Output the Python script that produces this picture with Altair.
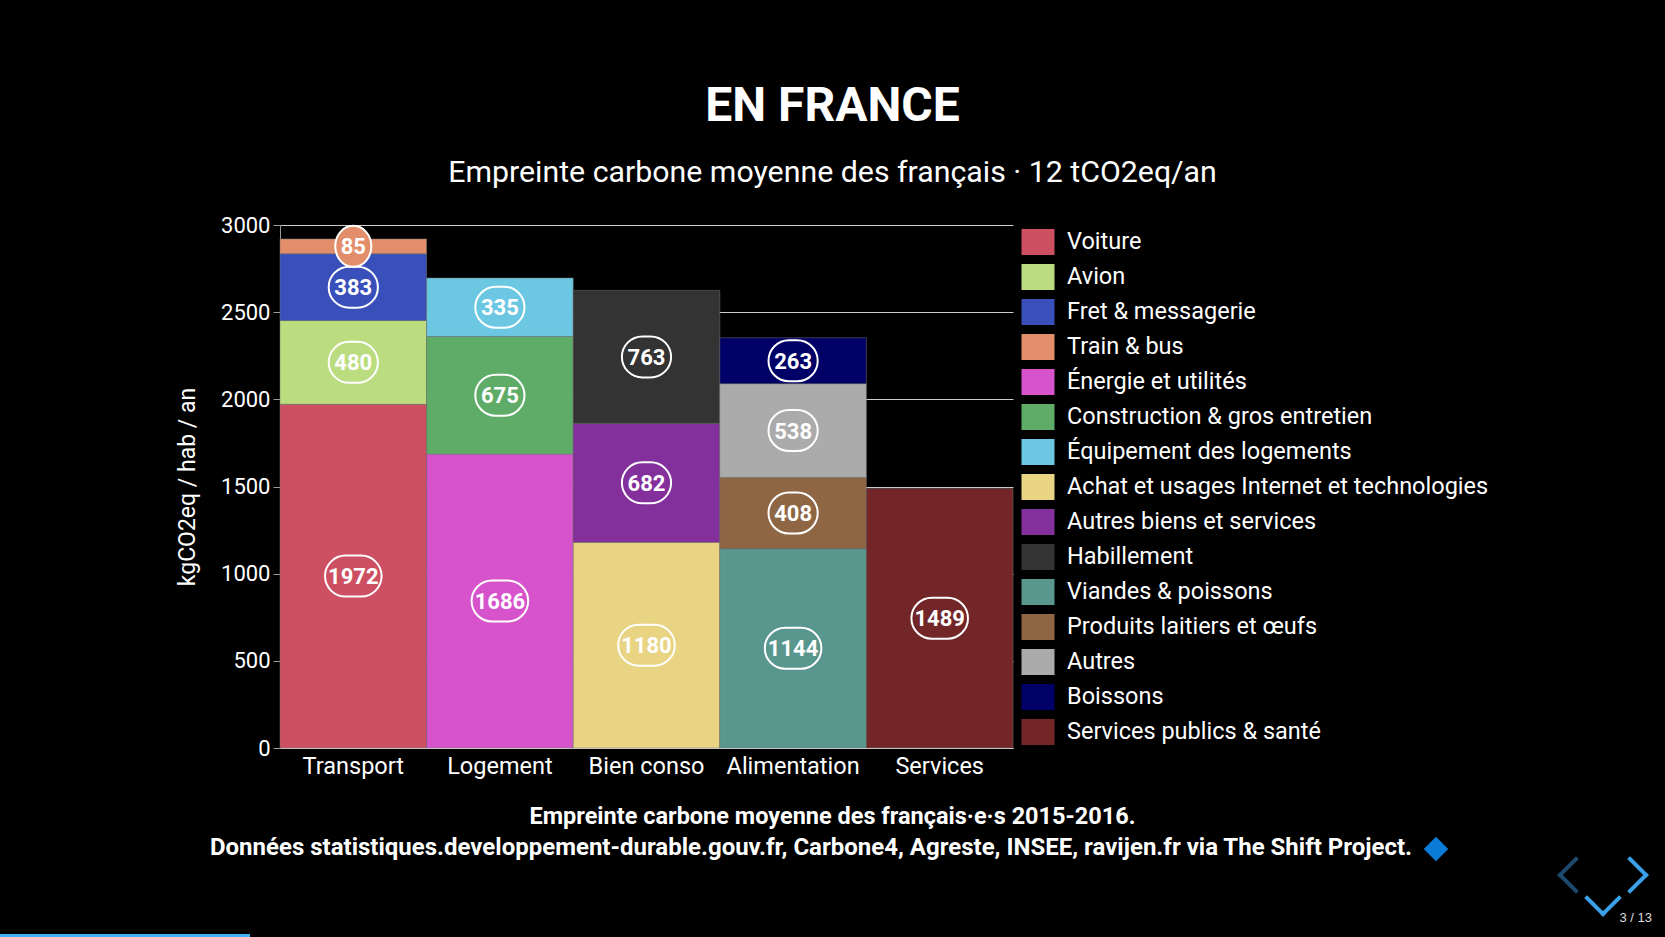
import altair as alt
import pandas as pd

FONT = "Roboto"

group_order = ["Transport", "Logement", "Bien conso", "Alimentation", "Services"]
groups = ["Transport", "Transport", "Transport", "Transport",
          "Logement", "Logement", "Logement",
          "Bien conso", "Bien conso", "Bien conso",
          "Alimentation", "Alimentation", "Alimentation", "Alimentation",
          "Services"]
categories = ["Voiture", "Avion", "Fret & messagerie", "Train & bus",
              "Énergie et utilités", "Construction & gros entretien", "Équipement des logements",
              "Achat et usages Internet et technologies", "Autres biens et services", "Habillement",
              "Viandes & poissons", "Produits laitiers et œufs", "Autres", "Boissons",
              "Services publics & santé"]
values = [1972, 480, 383, 85, 1686, 675, 335, 1180, 682, 763, 1144, 408, 538, 263, 1489]
colors = ["#CD4F62", "#BCDC80", "#3950BA", "#E38E6A", "#D653CC", "#5FAC68", "#6CC8E2",
          "#E8D482", "#83309C", "#333333", "#59968E", "#8E6644", "#ABABAB", "#000066", "#722628"]

title_text = "EN FRANCE"
subtitle_text = "Empreinte carbone moyenne des français · 12 tCO2eq/an"
y_title = "kgCO2eq / hab / an"
footer1 = "Empreinte carbone moyenne des français·e·s 2015-2016."
footer2 = "Données statistiques.developpement-durable.gouv.fr, Carbone4, Agreste, INSEE, ravijen.fr via The Shift Project."

# build stacked table
rows = []
cum = {}
for g, c, v in zip(groups, categories, values):
    s = cum.get(g, 0)
    rows.append({"group": g, "cat": c, "value": v, "start": s, "end": s + v, "mid": s + v / 2})
    cum[g] = s + v
df = pd.DataFrame(rows)


def pill(n):
    half = {2: 0.88, 3: 1.2, 4: 1.38}.get(n, 1.38)
    if half <= 1:
        return f"M -{half},0 A {half},1 0 1 1 {half},0 A {half},1 0 1 1 -{half},0 Z"
    a = round(half - 1, 3)
    return f"M -{a},-1 L {a},-1 A 1,1 0 0 1 {a},1 L -{a},1 A 1,1 0 0 1 -{a},-1 Z"


df["shape"] = [pill(len(str(v))) for v in df["value"]]

color_scale = alt.Scale(domain=categories, range=colors)
base = alt.Chart(df)

bars = base.mark_bar(stroke="#777777", strokeWidth=0.5).encode(
    x=alt.X("group:N", sort=group_order,
            scale=alt.Scale(paddingInner=0, paddingOuter=0),
            axis=alt.Axis(title=None, labelAngle=0, ticks=False, grid=False,
                          domainColor="#dddddd", labelColor="white", labelFont=FONT,
                          labelFontSize=23.5, labelPadding=6)),
    y=alt.Y("start:Q", scale=alt.Scale(domain=[0, 3000]),
            axis=alt.Axis(title=y_title, values=[0, 500, 1000, 1500, 2000, 2500, 3000],
                          format="d",
                          grid=True, gridColor="#cccccc", gridWidth=1,
                          domainColor="#999999", tickColor="#999999", tickSize=7,
                          labelColor="white", labelFont=FONT, labelFontSize=22, labelPadding=3,
                          titleColor="white", titleFont=FONT, titleFontSize=23,
                          titleFontWeight="normal", titlePadding=21)),
    y2="end:Q",
    color=alt.Color("cat:N", sort=categories, scale=color_scale,
                    legend=alt.Legend(title=None, orient="none", legendX=745, legendY=4,
                                      symbolType="M -1.27,-1 L 1.27,-1 L 1.27,1 L -1.27,1 Z",
                                      symbolSize=676, symbolStrokeWidth=0, symbolOpacity=1,
                                      labelFontSize=23.5, labelColor="white", labelFont=FONT,
                                      labelOffset=16, rowPadding=9, labelLimit=700)),
)

pills = base.mark_point(filled=True, opacity=1, stroke="white", strokeWidth=2, size=1681).encode(
    x=alt.X("group:N", sort=group_order),
    y=alt.Y("mid:Q"),
    fill=alt.Fill("cat:N", scale=color_scale, legend=None),
    shape=alt.Shape("shape:N", scale=None),
)

labels = base.mark_text(font=FONT, fontWeight="bold", fontSize=22, color="white",
                        baseline="middle", dy=1).encode(
    x=alt.X("group:N", sort=group_order),
    y=alt.Y("mid:Q"),
    text=alt.Text("value:Q"),
)


def txt(t, x, y, size, weight="normal", align="center", color="white", font=FONT):
    return alt.Chart(pd.DataFrame({"t": [t]})).mark_text(
        font=font, fontSize=size, fontWeight=weight, align=align, baseline="alphabetic",
        color=color).encode(x=alt.value(x), y=alt.value(y), text="t:N")


def seg(x1, y1, x2, y2, color, w=4):
    return alt.Chart(pd.DataFrame({"k": [0]})).mark_rule(
        color=color, strokeWidth=w, strokeCap="square").encode(
        x=alt.value(x1), y=alt.value(y1), x2=alt.value(x2), y2=alt.value(y2))


OX, OY = 280, 225
deco = [
    txt(title_text, 832.5 - OX, 121 - OY, 48, "bold"),
    txt(subtitle_text, 832.5 - OX, 182 - OY, 30.3),
    txt(footer1, 832.5 - OX, 824 - OY, 23.5, "bold"),
    txt(footer2, 811 - OX, 855 - OY, 24, "bold"),
    alt.Chart(pd.DataFrame({"k": [0]})).mark_point(
        shape="diamond", filled=True, opacity=1, color="#0B7BD8", size=600).encode(
        x=alt.value(1436 - OX), y=alt.value(849 - OY)),
    txt("3 / 13", 1652 - OX, 922 - OY, 13, color="#dddddd", align="right", font="Liberation Sans"),
    seg(1630 - OX, 859 - OY, 1646 - OX, 875 - OY, "#3AA0E8"),
    seg(1646 - OX, 875 - OY, 1630 - OX, 891 - OY, "#3AA0E8"),
    seg(1576 - OX, 859 - OY, 1560 - OX, 875 - OY, "#1C4A6E"),
    seg(1560 - OX, 875 - OY, 1576 - OX, 891 - OY, "#1C4A6E"),
    seg(1587 - OX, 898 - OY, 1603 - OX, 914 - OY, "#3AA0E8"),
    seg(1603 - OX, 914 - OY, 1619 - OX, 898 - OY, "#3AA0E8"),
    alt.Chart(pd.DataFrame({"k": [0]})).mark_rule(color="#42B0F5", strokeWidth=3).encode(
        x=alt.value(0 - OX), x2=alt.value(250 - OX), y=alt.value(935.5 - OY)),
]

chart = alt.layer(bars, pills, labels, *deco).properties(
    width=733, height=523,
    padding={"left": OX, "top": OY, "right": 1665 - OX - 733, "bottom": 937 - OY - 523},
    autosize="none",
    background="black",
).configure_view(stroke=None)

chart.save("out.html", embed_options={"renderer": "svg", "actions": False})
